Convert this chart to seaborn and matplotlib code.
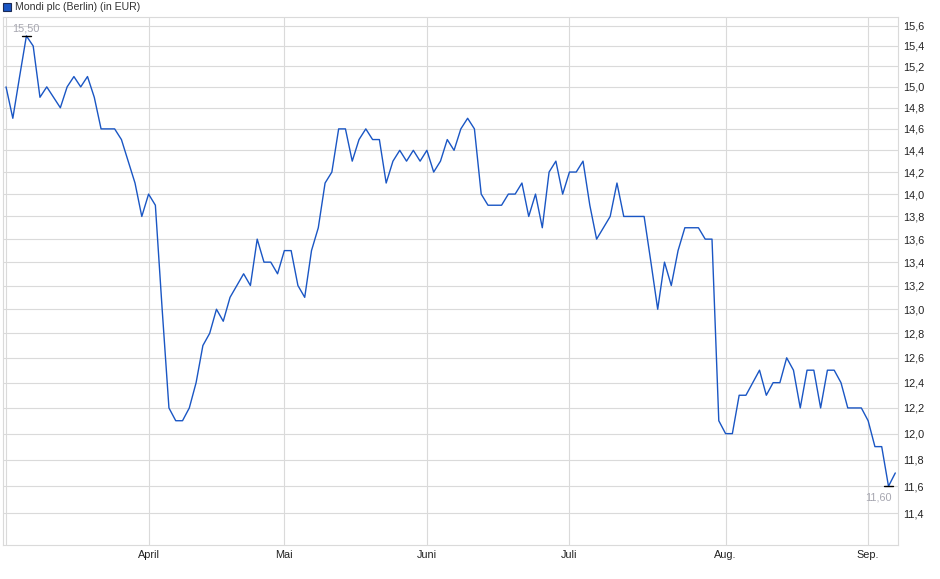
import numpy as np
import pandas as pd
import matplotlib
matplotlib.use("Agg")
import matplotlib.pyplot as plt
from matplotlib.patches import Rectangle
from matplotlib.ticker import FixedLocator, NullLocator
import seaborn as sns

# trading days on Börse Berlin, March to early September 2025
first_day = "2025-03-03"
last_day = "2025-09-05"
holidays = ["2025-04-18", "2025-04-21", "2025-05-01"]

# closing prices in EUR, one per trading day
prices = [
    15.0, 14.7, 15.1, 15.5, 15.4, 14.9, 15.0, 14.9, 14.8, 15.0,
    15.1, 15.0, 15.1, 14.9, 14.6, 14.6, 14.6, 14.5, 14.3, 14.1,
    13.8, 14.0, 13.9, 13.0, 12.2, 12.1, 12.1, 12.2, 12.4, 12.7,
    12.8, 13.0, 12.9, 13.1, 13.2, 13.3, 13.2, 13.6, 13.4, 13.4,
    13.3, 13.5, 13.5, 13.2, 13.1, 13.5, 13.7, 14.1, 14.2, 14.6,
    14.6, 14.3, 14.5, 14.6, 14.5, 14.5, 14.1, 14.3, 14.4, 14.3,
    14.4, 14.3, 14.4, 14.2, 14.3, 14.5, 14.4, 14.6, 14.7, 14.6,
    14.0, 13.9, 13.9, 13.9, 14.0, 14.0, 14.1, 13.8, 14.0, 13.7,
    14.2, 14.3, 14.0, 14.2, 14.2, 14.3, 13.9, 13.6, 13.7, 13.8,
    14.1, 13.8, 13.8, 13.8, 13.8, 13.4, 13.0, 13.4, 13.2, 13.5,
    13.7, 13.7, 13.7, 13.6, 13.6, 12.1, 12.0, 12.0, 12.3, 12.3,
    12.4, 12.5, 12.3, 12.4, 12.4, 12.6, 12.5, 12.2, 12.5, 12.5,
    12.2, 12.5, 12.5, 12.4, 12.2, 12.2, 12.2, 12.1, 11.9, 11.9,
    11.6, 11.7,
]

month_labels = ["", "April", "Mai", "Juni", "Juli", "Aug.", "Sep."]
y_ticks = [11.4, 11.6, 11.8, 12.0, 12.2, 12.4, 12.6, 12.8, 13.0, 13.2, 13.4,
           13.6, 13.8, 14.0, 14.2, 14.4, 14.6, 14.8, 15.0, 15.2, 15.4, 15.6]
title = "Mondi plc (Berlin) (in EUR)"

days = pd.bdate_range(first_day, last_day)
days = days[~days.isin(pd.to_datetime(holidays))]
df = pd.DataFrame({"date": days, "price": prices})
df["pos"] = np.arange(len(df))
month_starts = df.groupby(df["date"].dt.to_period("M"))["pos"].min().tolist()

sns.set_style("white")
plt.rcParams["font.family"] = ["Liberation Sans", "DejaVu Sans"]

line_col = "#1a56c4"
grid_col = "#dadada"

fig = plt.figure(figsize=(9.4, 5.79), dpi=100)
ax = fig.add_axes([2.5 / 940, 1 - 545 / 579, 895.5 / 940, 528 / 579])

sns.lineplot(data=df, x="pos", y="price", ax=ax, color=line_col, linewidth=1.0)

ax.set_yscale("log")
ax.set_ylim(11.17, 15.69)
ax.set_xlim(-0.52, 131.4)
ax.yaxis.set_major_locator(FixedLocator(y_ticks))
ax.yaxis.set_minor_locator(NullLocator())
ax.set_yticklabels([f"{v:.1f}".replace(".", ",") for v in y_ticks])
ax.yaxis.tick_right()
ax.tick_params(axis="y", length=0, pad=3.5, labelsize=7.8, labelcolor="#222222")

ax.set_xticks(month_starts)
ax.set_xticklabels(month_labels)
ax.tick_params(axis="x", length=2.5, width=0.8, color=grid_col, pad=1.0,
               labelsize=7.8, labelcolor="#222222")

ax.grid(True, color=grid_col, linewidth=0.8)
ax.set_axisbelow(True)
for sp in ax.spines.values():
    sp.set_color(grid_col)
    sp.set_linewidth(0.8)
ax.set_xlabel("")
ax.set_ylabel("")

# high / low markers
i_max = int(np.argmax(prices))
i_min = int(np.argmin(prices))
ax.plot([i_max - 0.7, i_max + 0.7], [prices[i_max]] * 2, color="black", lw=1.0)
ax.plot([i_min - 0.7, i_min + 0.7], [prices[i_min]] * 2, color="black", lw=1.0)
ax.annotate(f"{prices[i_max]:.2f}".replace(".", ","), (i_max, prices[i_max]),
            xytext=(-0.5, 1.5), textcoords="offset points", ha="center", va="bottom",
            fontsize=7.8, color="#a6a6b0")
ax.annotate(f"{prices[i_min]:.2f}".replace(".", ","), (i_min, prices[i_min]),
            xytext=(-7, -4.5), textcoords="offset points", ha="center", va="top",
            fontsize=7.8, color="#a6a6b0")

# legend square and title
fig.add_artist(Rectangle((3 / 940, 1 - 11 / 579), 8 / 940, 8 / 579,
                         transform=fig.transFigure, facecolor=line_col,
                         edgecolor="#1c2a55", linewidth=0.8))
fig.text(15 / 940, 1 - 7 / 579, title, ha="left", va="center",
         fontsize=7.6, color="#333333")

fig.savefig("out.png", dpi=100)
